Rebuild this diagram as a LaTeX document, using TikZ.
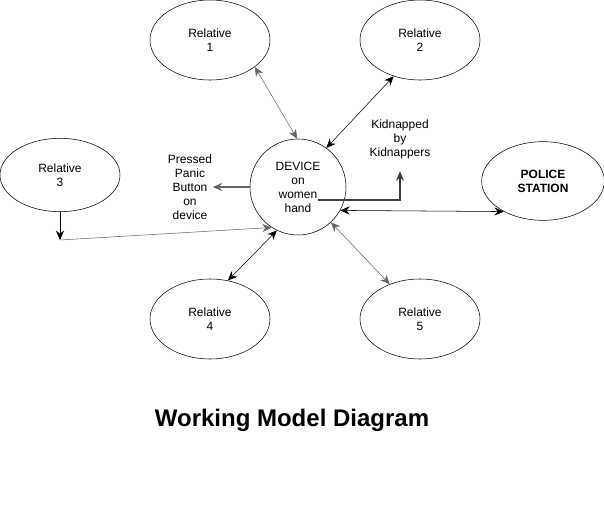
\documentclass[tikz,border=0pt]{standalone}
\usepackage{fontspec}
\setmainfont{Liberation Sans}
\usetikzlibrary{shapes.geometric,arrows.meta}

\begin{document}
\begin{tikzpicture}[x=0.75pt,y=-0.75pt,
    >={Stealth[length=7pt,width=6pt]},
    every node/.style={font=\fontsize{9}{10.5}\selectfont,align=center},
    person/.style={ellipse,draw,thin,minimum width=90pt,minimum height=60pt,inner sep=0pt},
    device/.style={circle,draw,thin,minimum size=72pt,inner sep=0pt},
    link/.style={<->,thin},
    greylink/.style={<->,thin,draw=black!60}]
    \useasboundingbox (0,0) rectangle (604,521);
    \node[person] (r_1) at (210,40) {Relative\\1};
    \node[person] (r_2) at (420,40) {Relative\\2};
    \node[person,minimum height=55pt] (r_3) at (60,175) {Relative\\3};
    \node[person] (r_4) at (210,319) {Relative\\4};
    \node[person] (r_5) at (420,319) {Relative\\5};
    \node[person,minimum width=92pt,minimum height=59pt,font=\fontsize{9}{10.5}\selectfont\bfseries] (ps) at (543,181) {POLICE\\STATION};
    \node[device] (dev) at (298,187) {DEVICE\\on\\women\\hand};
    \node (panic) at (190,187) {Pressed\\Panic\\Button\\on\\device};
    \node (kid) at (400,139) {Kidnapped\\by\\Kidnappers};
    \coordinate (c_3) at (60,240);
    \coordinate (k_0) at (318,200);
    \path
    (r_1.-31) edge[greylink] (dev.91)
    (r_2.-126) edge[link] (dev.54)
    (r_4.65) edge[link] (dev.-116)
    (r_5.131) edge[greylink] (dev.-47)
    (dev.-29) edge[link] (ps.-142);
    \draw[->,thin] (r_3.south) -- (c_3);
    \draw[->,thin,draw=black!60] (c_3) -- (dev.-123);
    \draw[->,line width=1.2pt,draw=black!60,shorten >=-3pt] (dev.west) -- (panic.east);
    \draw[->,line width=1.2pt,draw=black!75] (k_0) -| ([yshift=-6pt]kid.south);
    \node[font=\fontsize{18}{21}\selectfont\bfseries] (title) at (292,420) {Working Model Diagram};
\end{tikzpicture}
\end{document}
